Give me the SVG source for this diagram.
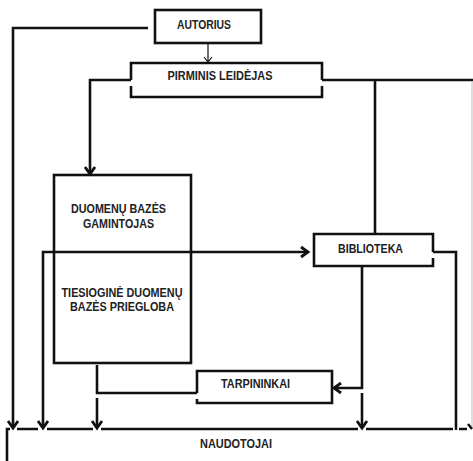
<svg xmlns="http://www.w3.org/2000/svg" width="473" height="461" viewBox="0 0 473 461">
<style>
.box{fill:none;stroke:#111;stroke-width:2.6;stroke-linejoin:miter}
.ln{fill:none;stroke:#111;stroke-width:2.6}
.thin{fill:none;stroke:#111;stroke-width:1.2}
.t{font-family:"Liberation Sans",Arial,sans-serif;font-weight:bold;font-size:13px;fill:#222;text-anchor:middle}
</style>
<defs>
<marker id="ah" markerUnits="userSpaceOnUse" viewBox="-8 -6 10 12" refX="0" refY="0" markerWidth="10" markerHeight="12" orient="auto" overflow="visible">
<path d="M-7,-5 L0,0 L-7,5" fill="none" stroke="#111" stroke-width="2.8" stroke-linejoin="miter"/>
</marker>
<marker id="ahThin" markerUnits="userSpaceOnUse" viewBox="-8 -6 10 12" refX="0" refY="0" markerWidth="10" markerHeight="12" orient="auto" overflow="visible">
<path d="M-5,-4 L0,0 L-5,4" fill="none" stroke="#111" stroke-width="1.2"/>
</marker>
</defs>
<rect width="473" height="461" fill="#fff"/>
<g id="connectors">
<path class="ln" d="M148,28 H13 V428" marker-end="url(#ah)"/>
<path class="thin" d="M208,43 V62" marker-end="url(#ahThin)"/>
<path class="ln" d="M131,80 H90 V174" marker-end="url(#ah)"/>
<path class="ln" d="M322,80 H473"/>
<path class="ln" d="M375,80 V234"/>
<path d="M472,82 V428" fill="none" stroke="#c8c8c8" stroke-width="1.2"/>
<path d="M468,424 L472,429" fill="none" stroke="#111" stroke-width="2.4"/>
<path class="ln" d="M56,252 H43 V428" marker-end="url(#ah)"/>
<path class="ln" d="M56,252 H308" marker-end="url(#ah)"/>
<path class="ln" d="M433,252 H456 V430"/>
<path class="ln" d="M362,266 V388 H334" marker-end="url(#ah)"/>
<path class="ln" d="M362,393 V428" marker-end="url(#ah)"/>
<path class="ln" d="M97,365 V393 H197"/>
<path class="ln" d="M97,398 V428" marker-end="url(#ah)"/>
</g>
<g id="autorius">
<rect class="box" x="155" y="10" width="106" height="33"/>
<text class="t" x="204" y="29" textLength="54" lengthAdjust="spacingAndGlyphs">AUTORIUS</text>
</g>
<g id="pirminis-leidejas">
<path class="box" d="M131,80 V63 H322 V80 M322,86 V97 H131 V86"/>
<text class="t" x="220" y="80" textLength="105" lengthAdjust="spacingAndGlyphs">PIRMINIS LEIDĖJAS</text>
</g>
<g id="db-gamintojas">
<rect class="box" x="54" y="175" width="137" height="188"/>
<text class="t" x="118.5" y="213" textLength="95" lengthAdjust="spacingAndGlyphs">DUOMENŲ BAZĖS</text>
<text class="t" x="118.5" y="228" textLength="71" lengthAdjust="spacingAndGlyphs">GAMINTOJAS</text>
<text class="t" x="122" y="297" textLength="121" lengthAdjust="spacingAndGlyphs">TIESIOGINĖ DUOMENŲ</text>
<text class="t" x="122" y="311" textLength="104" lengthAdjust="spacingAndGlyphs">BAZĖS PRIEGLOBA</text>
</g>
<g id="biblioteka">
<path class="box" d="M433,252 V234 H314 V266 H433 V258"/>
<text class="t" x="370.5" y="253" textLength="65" lengthAdjust="spacingAndGlyphs">BIBLIOTEKA</text>
</g>
<g id="tarpininkai">
<path class="box" d="M197,393 V371 H332 V403 H197 V399"/>
<text class="t" x="255.5" y="388" textLength="69" lengthAdjust="spacingAndGlyphs">TARPININKAI</text>
</g>
<g id="naudotojai">
<path class="box" d="M7,463 V429 H10 M17,429 H38 M47,429 H93 M101,429 H358 M366,429 H453 M459,429 H467"/>
<text class="t" x="236" y="448" textLength="72" lengthAdjust="spacingAndGlyphs">NAUDOTOJAI</text>
</g>
</svg>
